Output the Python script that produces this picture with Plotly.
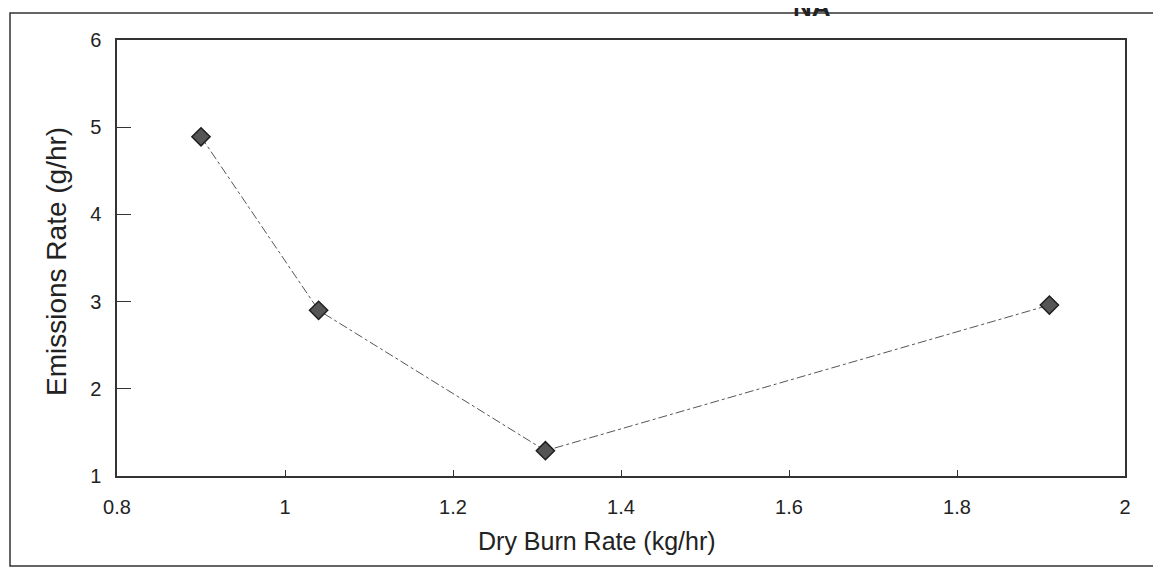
import plotly.graph_objects as go

burn_rate = [0.90, 1.04, 1.31, 1.91]
emissions = [4.89, 2.90, 1.29, 2.96]
x_ticks = [0.8, 1, 1.2, 1.4, 1.6, 1.8, 2]
y_ticks = [1, 2, 3, 4, 5, 6]

FONT = "Arial, Liberation Sans, sans-serif"
INK = "#222222"

# plot area target on screen: x 117..1125, y 40..476
L, R, T, B = 109, 44, 32, 106
PW, PH = 1008, 436

def px(xp):  # screen x -> paper
    return (xp - 117) / PW

def py(yp):  # screen y -> paper
    return (476 - yp) / PH

fig = go.Figure()
fig.add_trace(go.Scatter(
    x=burn_rate, y=emissions, mode="lines+markers",
    line=dict(color="#555555", width=1, dash="dashdot"),
    marker=dict(symbol="diamond", size=14, color="#555555",
                line=dict(color="#1e1e1e", width=1.5)),
    showlegend=False,
))

fig.update_layout(
    width=1161, height=574,
    margin=dict(l=L, r=R, t=T, b=B),
    paper_bgcolor="white", plot_bgcolor="white",
    font=dict(family=FONT, color=INK),
    xaxis=dict(
        range=[0.8, 2.0], tickvals=x_ticks,
        ticktext=[str(v) for v in x_ticks],
        ticks="inside", ticklen=6, tickcolor="#333",
        showline=True, linecolor="#333", linewidth=1.5, mirror=True,
        showgrid=False, zeroline=False,
        tickfont=dict(size=20, color=INK), ticklabelstandoff=12,
    ),
    yaxis=dict(
        range=[1, 6], tickvals=y_ticks,
        ticks="inside", ticklen=14, tickcolor="#333",
        showline=True, linecolor="#333", linewidth=1.5, mirror=True,
        showgrid=False, zeroline=False,
        tickfont=dict(size=20, color=INK), ticklabelstandoff=10,
    ),
)

# axis titles
fig.add_annotation(text="Dry Burn Rate (kg/hr)", xref="paper", yref="paper",
                   x=px(597), y=py(541), xanchor="center", yanchor="middle",
                   showarrow=False, font=dict(size=25, color=INK, family=FONT))
fig.add_annotation(text="Emissions Rate (g/hr)", xref="paper", yref="paper",
                   x=px(57), y=py(262), xanchor="center", yanchor="middle",
                   showarrow=False, textangle=-90,
                   font=dict(size=28, color=INK, family=FONT))

# outer scanned frame
fig.add_shape(type="rect", xref="paper", yref="paper",
              x0=px(10), x1=px(1200), y0=py(566), y1=py(13),
              line=dict(color="#333", width=1.5))
fig.add_annotation(text="<b>NA</b>", xref="paper", yref="paper",
                   x=px(812), y=py(24), xanchor="center", yanchor="bottom",
                   showarrow=False, font=dict(size=26, color=INK, family=FONT))

fig.write_html("out.html")
